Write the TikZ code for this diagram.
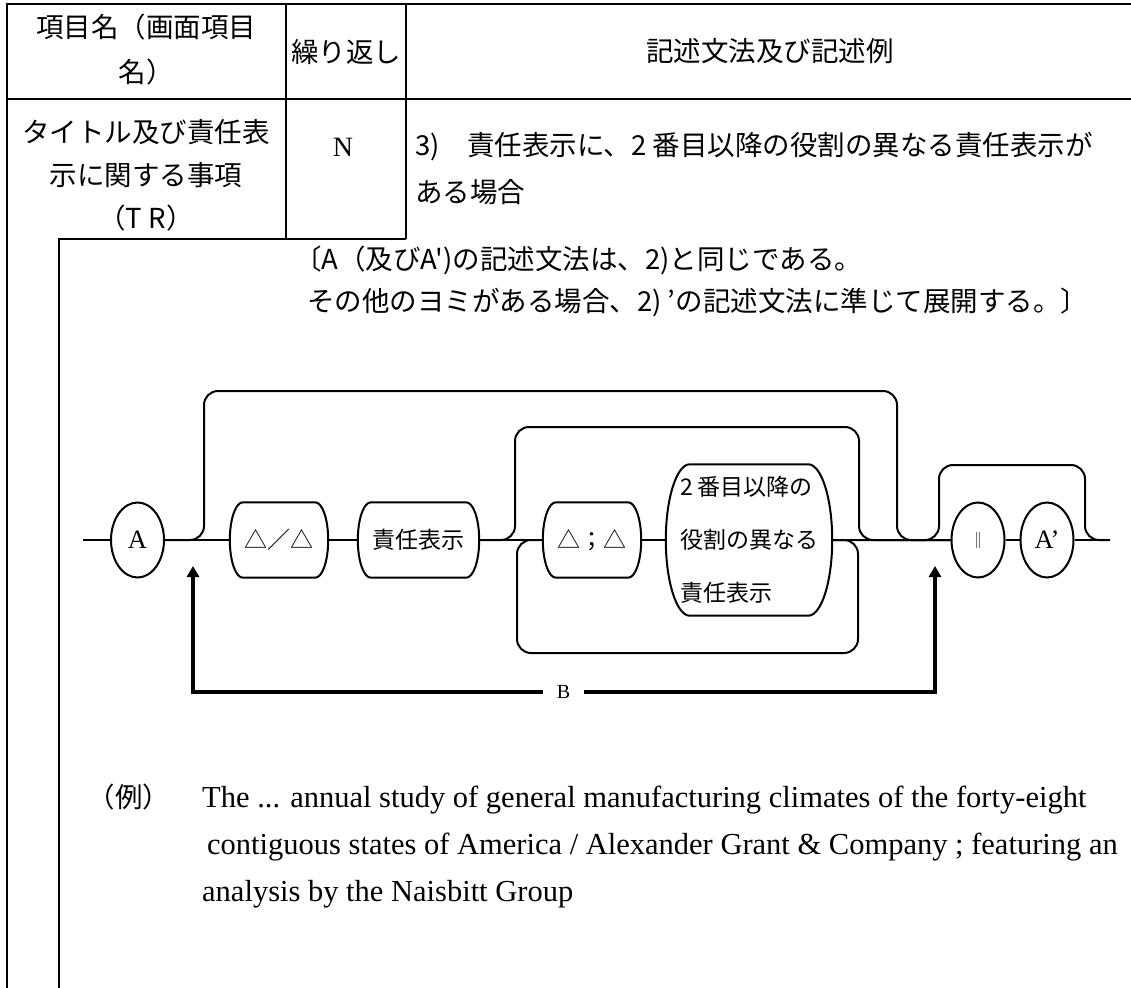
\documentclass[tikz,border=0pt]{standalone}
\usepackage{fontspec}
\setmainfont{Liberation Serif}
\newfontfamily\jp{Noto Sans CJK JP}
\usetikzlibrary{shapes.geometric,arrows.meta,calc}
\newcommand\railbox[2]{%
 \draw[rail] ($(#1.north west)+(#2,0)$) -- ($(#1.north east)+(-#2,0)$)
   .. controls ($(#1.north east)+(-0.45*#2,0)$) and ($(#1.north east)!0.45!(#1.east)$) .. (#1.east)
   .. controls ($(#1.south east)!0.45!(#1.east)$) and ($(#1.south east)+(-0.45*#2,0)$) .. ($(#1.south east)+(-#2,0)$)
   -- ($(#1.south west)+(#2,0)$)
   .. controls ($(#1.south west)+(0.45*#2,0)$) and ($(#1.south west)!0.45!(#1.west)$) .. (#1.west)
   .. controls ($(#1.north west)!0.45!(#1.west)$) and ($(#1.north west)+(0.45*#2,0)$) .. cycle;}
\begin{document}
\begin{tikzpicture}[x=1pt,y=1pt,
  tbl/.style={line width=2.6pt},
  rail/.style={line width=2pt},
  railr/.style={rail, rounded corners=14pt},
  jtext/.style={font=\jp\fontsize{27.5}{33}\selectfont, inner sep=0pt},
  term/.style={ellipse, draw, line width=2pt, minimum width=53pt, minimum height=75pt, inner sep=0pt, font=\fontsize{26.5}{30}\selectfont},
  nonterm/.style={rectangle, minimum height=75pt, inner sep=0pt, font=\jp\fontsize{23}{28}\selectfont},
  barrow/.style={line width=4pt, -{Triangle[width=12pt,length=11pt]}},
  extext/.style={anchor=base west, inner sep=0pt, font=\fontsize{30.5}{36}\selectfont},
]
\useasboundingbox (0,0) rectangle (1131,-987);
% table
\draw[tbl] (6,-4) -- (1135,-4);
\draw[tbl] (7,-4) -- (7,-990);
\draw[tbl] (7,-99) -- (1135,-99);
\draw[tbl] (286,-4) -- (286,-239);
\draw[tbl] (406,-4) -- (406,-239);
\draw[tbl] (59,-990) -- (59,-239) -- (406,-239);
% header
\node[jtext] (h1a) at (146,-27) {項目名（画面項目};
\node[jtext] (h1b) at (146,-72) {名）};
\node[jtext] (h2) at (346,-52) {繰り返し};
\node[jtext] (h3) at (770,-51) {記述文法及び記述例};
% row
\node[jtext] (r1a) at (146,-132) {タイトル及び責任表};
\node[jtext] (r1b) at (146,-175) {示に関する事項};
\node[jtext] (r1c) at (146,-218) {（T R）};
\node[inner sep=0pt, font=\fontsize{28}{30}\selectfont] (r2) at (343,-147) {N};
\node[jtext, anchor=west] (r3a) at (415,-147) {3)　責任表示に、2 番目以降の役割の異なる責任表示が};
\node[jtext, anchor=west] (r3b) at (415,-192) {ある場合};
\node[jtext, anchor=west] (n1) at (294,-260) {〔A（及びA')の記述文法は、2)と同じである。};
\node[jtext, anchor=west] (n2) at (307,-302) {その他のヨミがある場合、2) ’の記述文法に準じて展開する。〕};
% diagram nodes
\node[term] (A) at (137.5,-540) {A};
\node[nonterm, minimum width=98pt] (s1) at (279,-540) {△／△};
\node[nonterm, minimum width=121pt] (s2) at (418.5,-540) {責任表示};
\node[nonterm, minimum width=98pt] (s3) at (592,-540) {△；△};
\node[nonterm, minimum width=166pt, minimum height=151pt, align=left, font=\jp\fontsize{23}{53}\selectfont] (s4) at (749,-540) {2 番目以降の\\役割の異なる\\責任表示};
\railbox{s1}{13}
\railbox{s2}{13}
\railbox{s3}{13}
\railbox{s4}{24}
\node[term, font=\jp\fontsize{16}{16}\selectfont] (p) at (978,-540) {‖};
\node[term] (ap) at (1047,-540) {A’};
\coordinate (st) at (83,-540);
\coordinate (en) at (1110,-540);
\draw[rail] (st) -- (A) -- (s1) -- (s2) -- (s3) -- (s4) -- (p) -- (ap) -- (en);
% bypasses
\draw[railr] (A.east) -| (204,-391) -| (897,-540) -- (p.west);
\draw[railr] (s2.east) -| (515,-427) -| (859,-540) -- (p.west);
\draw[railr] (s4.east) -| (858,-653) -| (517,-540) -- (s3.west);
\draw[railr] (s4.east) -| (939,-465) -| (1085,-540) -- (en);
% B loop
\node[inner sep=0pt, minimum width=41pt, font=\fontsize{20}{20}\selectfont] (B) at (563.5,-692) {B};
\coordinate (tipL) at (193,-566);
\coordinate (tipR) at (935,-566);
\draw[barrow] (B.west) -| (tipL);
\draw[barrow] (B.east) -| (tipR);
% example
\node[jtext, anchor=base] (ex) at (129,-807) {（例）};
\node[extext] (e1) at (202,-807) {The ... annual study of general manufacturing climates of the forty-eight};
\node[extext] (e2) at (202,-854) {\hspace{5pt}contiguous states of America / Alexander Grant \& Company ; featuring an};
\node[extext] (e3) at (202,-901) {analysis by the Naisbitt Group};
\end{tikzpicture}
\end{document}
